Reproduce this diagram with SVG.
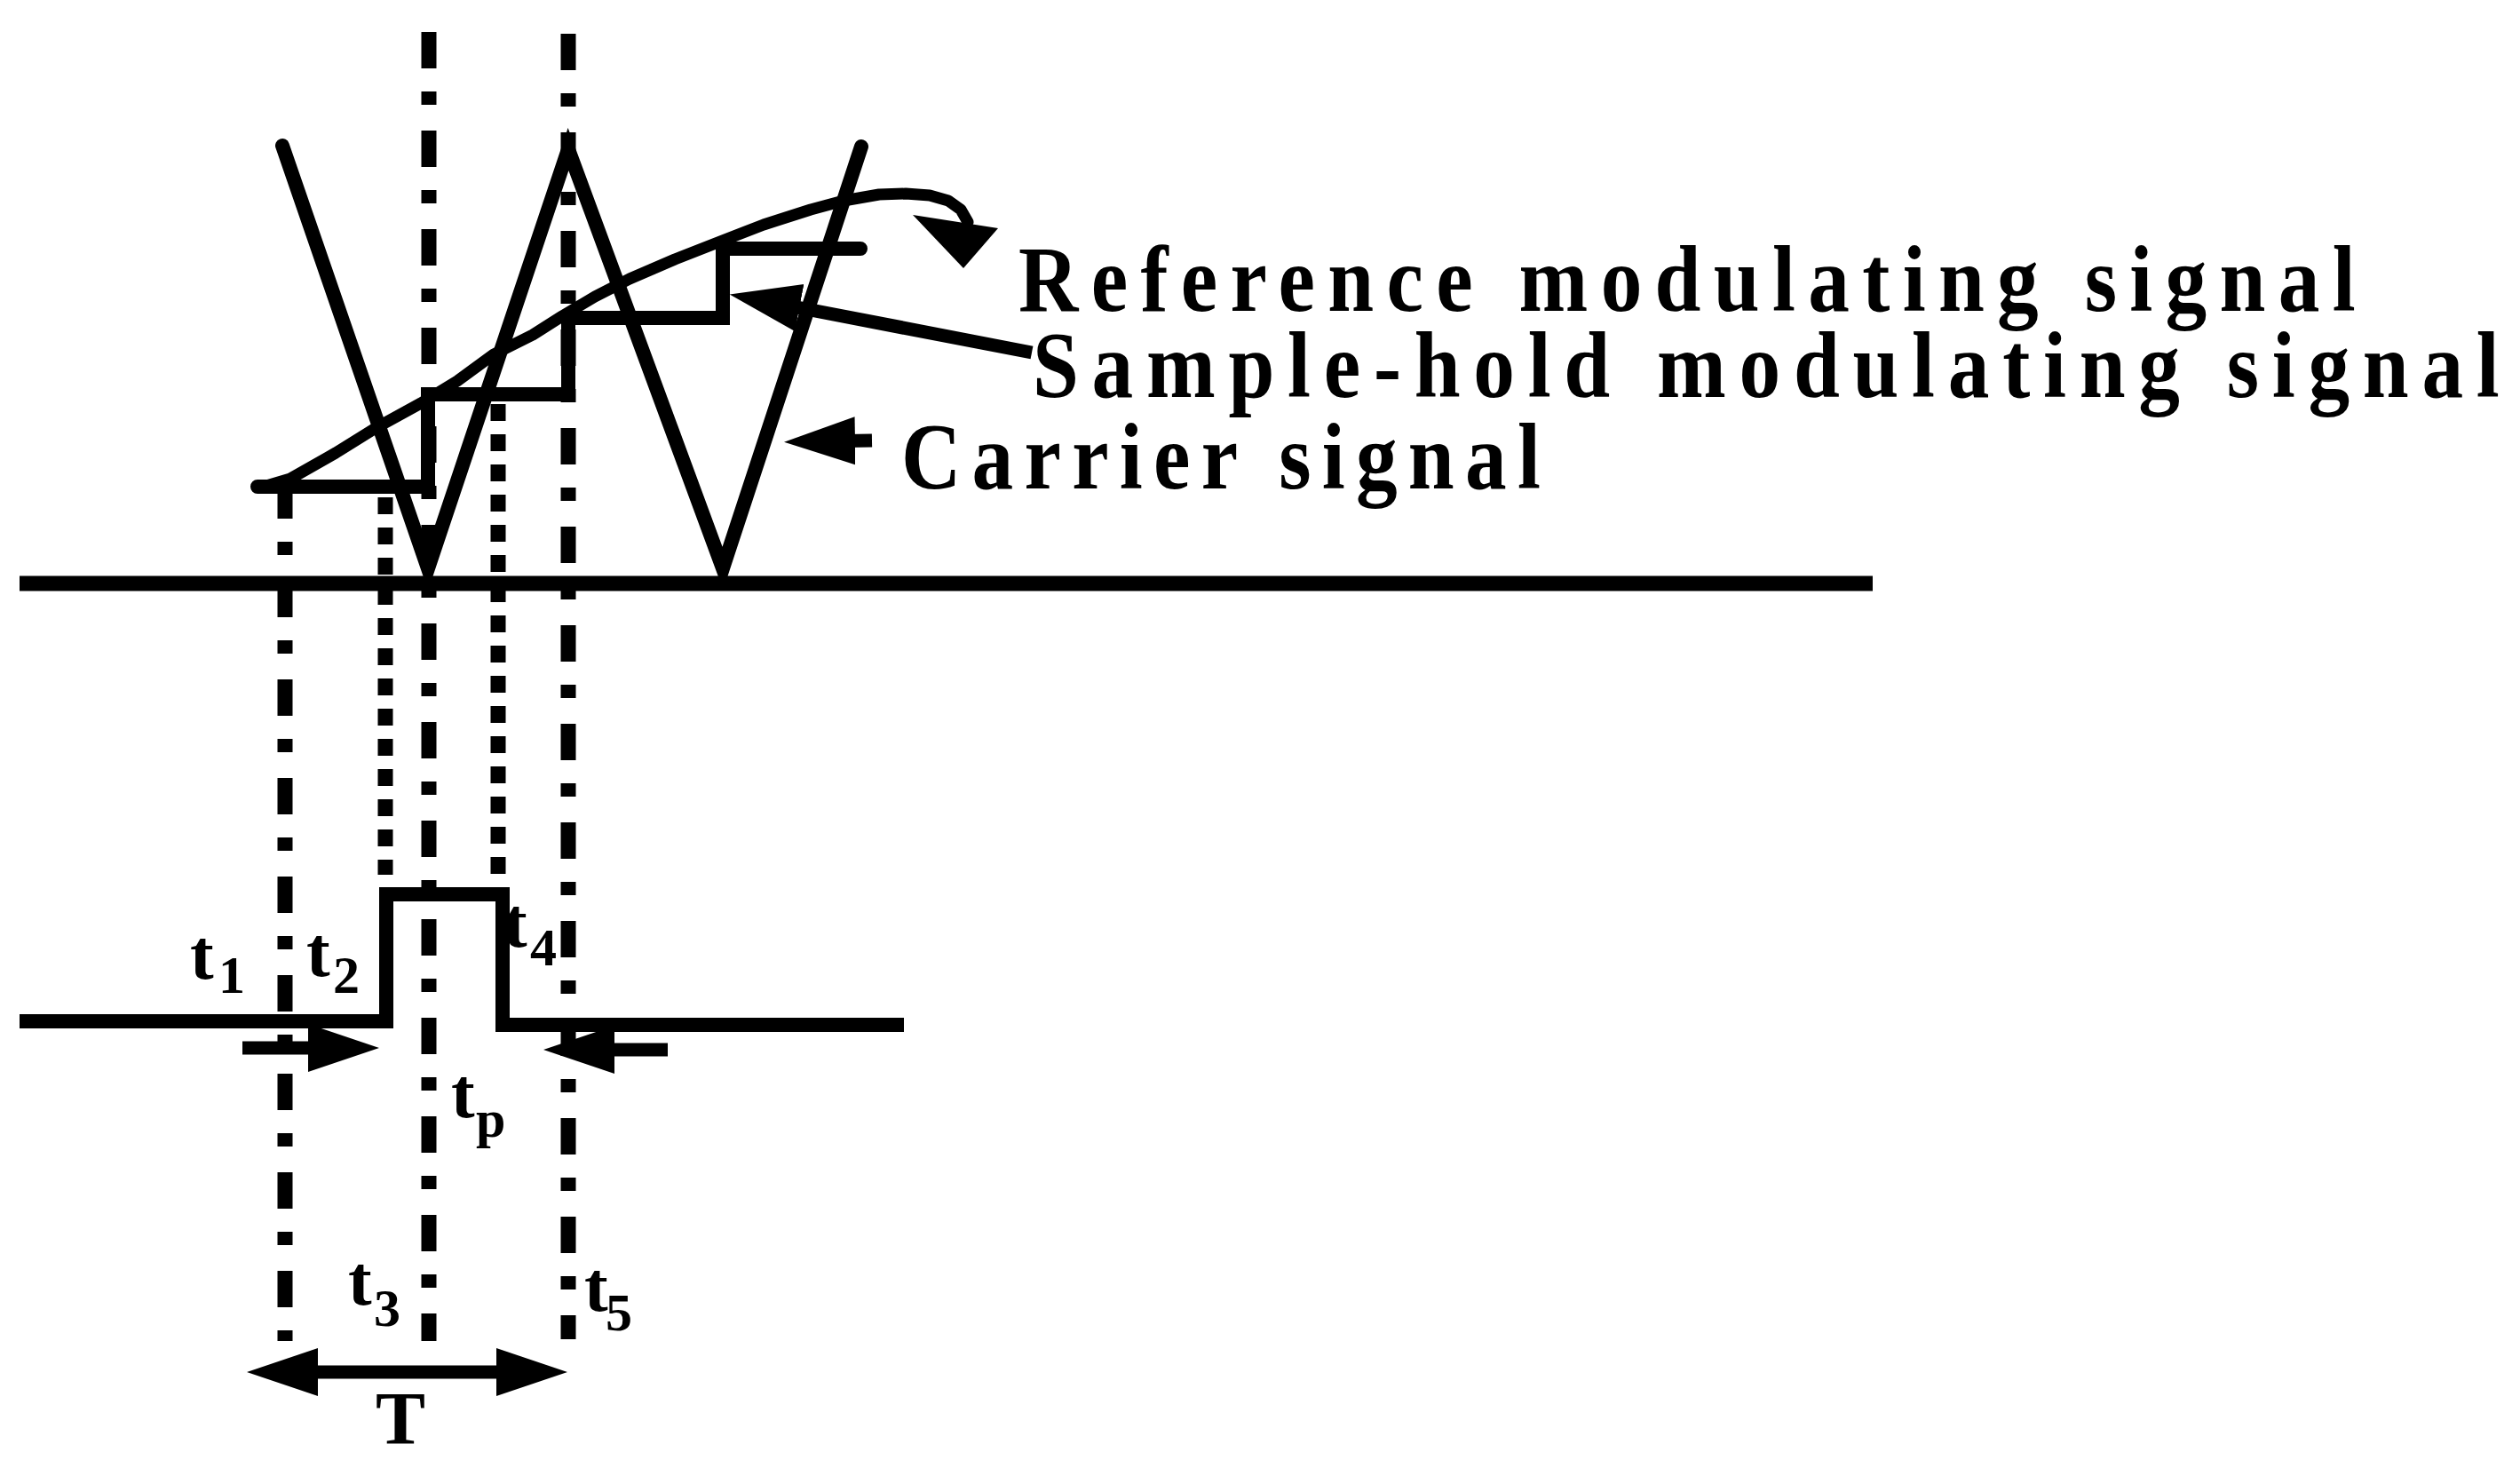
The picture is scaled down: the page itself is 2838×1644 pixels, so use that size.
<svg xmlns="http://www.w3.org/2000/svg" width="2838" height="1644" viewBox="0 0 2838 1644">
<defs>
<style>
.ln{fill:none;stroke:#000;}
.dd{fill:none;stroke:#000;stroke-width:17;stroke-dasharray:41 26 15 29;}
.dt{fill:none;stroke:#000;stroke-width:17;stroke-dasharray:19 15;}
.txt{font-family:"Liberation Serif","Times New Roman",serif;font-weight:bold;fill:#000;}
.big{font-size:106px;}
.t{font-size:80px;}
.sub{font-size:60px;}
.arr{fill:none;stroke:#000;stroke-width:15;marker-end:url(#ah);}
</style>
<marker id="ah" markerUnits="userSpaceOnUse" viewBox="0 0 80 60" markerWidth="80" markerHeight="60" refX="40" refY="30" orient="auto-start-reverse">
<path d="M0,3 L80,30 L0,57 Z" fill="#000"/>
</marker>
</defs>
<rect width="2838" height="1644" fill="#fff"/>

<g id="guides">
<path class="dd" d="M483,36 V1510"/>
<path class="dd" d="M640,38 V1508"/>
<path class="dd" d="M321,543 V1510"/>
<path class="dt" d="M434,560 V985"/>
<path class="dt" d="M561,455 V985"/>
</g>

<g id="axis">
<path class="ln" stroke-width="17" d="M22,657 H2109"/>
</g>

<g id="pulse">
<path class="ln" stroke-width="16" d="M22,1150 H435 V1007 H566 V1154 H1018"/>
</g>

<g id="carrier">
<polyline class="ln" stroke-width="16" stroke-linecap="round" stroke-linejoin="miter" points="318,164 482,640 640,168 814,640 970,165"/>
</g>

<g id="sample-hold">
<path class="ln" stroke-width="16" stroke-linecap="round" d="M290,548 H482 V444 H640 V358 H814 V280 H969"/>
</g>

<g id="reference">
<polyline class="ln" stroke-width="13" stroke-linejoin="round" stroke-linecap="round" points="300,547 327,539 378,510 423,482 474,454 515,429 556,399 600,377 633,356 670,334 709,314 760,292 811,272 860,253 913,236 950,226 990,219 1020,218 1047,220 1068,226 1082,236 1090,250"/>
<polygon points="1028,242 1124,257 1085,302" fill="#000"/>
</g>

<g id="connectors">
<path class="arr" d="M1162,397 L861,339"/>
<path class="arr" d="M982,496 L923,497"/>
<path class="arr" d="M273,1180 L387,1180"/>
<path class="arr" d="M752,1182 L652,1182"/>
<path class="arr" stroke-width="17" d="M318,1545 L599,1545" marker-start="url(#ah)"/>
</g>

<g id="text-reference">
<text class="txt big" transform="translate(1147,350) scale(0.88,1)" x="0" y="0" textLength="1711" lengthAdjust="spacing">Reference modulating signal</text>
</g>
<g id="text-samplehold">
<text class="txt big" transform="translate(1163,447) scale(0.88,1)" x="0" y="0" textLength="1877" lengthAdjust="spacing">Sample-hold modulating signal</text>
</g>
<g id="text-carrier">
<text class="txt big" transform="translate(1015,550) scale(0.88,1)" x="0" y="0" textLength="818" lengthAdjust="spacing">Carrier signal</text>
</g>

<g id="labels">
<text class="txt t" x="214" y="1102">t<tspan class="sub" x="246" y="1118">1</tspan></text>
<text class="txt t" x="345" y="1099">t<tspan class="sub" x="375" y="1118">2</tspan></text>
<text class="txt t" x="567" y="1066">t<tspan class="sub" x="597" y="1087">4</tspan></text>
<text class="txt t" x="508" y="1258">t<tspan class="sub" x="536" y="1280">p</tspan></text>
<text class="txt t" x="392" y="1469">t<tspan class="sub" x="421" y="1493">3</tspan></text>
<text class="txt t" x="658" y="1476">t<tspan class="sub" x="682" y="1498">5</tspan></text>
<text class="txt" x="451" y="1626" font-size="84" text-anchor="middle">T</text>
</g>
</svg>
